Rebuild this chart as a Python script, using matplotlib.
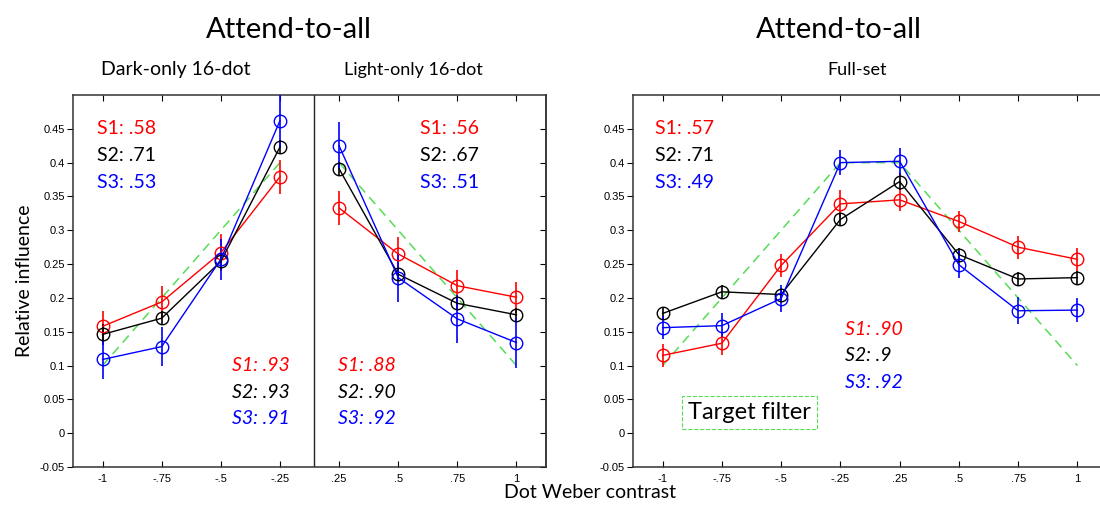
import matplotlib
matplotlib.use('Agg')
import matplotlib.pyplot as plt
import numpy as np

# contrast levels (tick labels) and positions
xlabels = ['-1', '-.75', '-.5', '-.25', '.25', '.5', '.75', '1']
yticks = [-0.05, 0, 0.05, 0.1, 0.15, 0.2, 0.25, 0.3, 0.35, 0.4, 0.45]
ylabels = ['-0.05', '0', '0.05', '0.1', '0.15', '0.2', '0.25', '0.3', '0.35', '0.4', '0.45']

# target filter
target = [0.1, 0.2, 0.3, 0.4, 0.4, 0.3, 0.2, 0.1]

# dark-only (first 4) and light-only (last 4) 16-dot conditions
dl_s1 = [0.158, 0.194, 0.267, 0.379, 0.333, 0.265, 0.218, 0.201]
dl_s2 = [0.146, 0.170, 0.254, 0.423, 0.391, 0.235, 0.192, 0.175]
dl_s3 = [0.109, 0.128, 0.257, 0.462, 0.425, 0.230, 0.169, 0.134]
dl_s1_err = [0.022, 0.023, 0.027, 0.025, 0.025, 0.025, 0.023, 0.023]
dl_s2_err = [0.015, 0.010, 0.012, 0.010, 0.010, 0.010, 0.010, 0.010]
dl_s3_err = [0.029, 0.029, 0.030, 0.040, 0.035, 0.036, 0.035, 0.037]

# full set
fs_s1 = [0.115, 0.133, 0.248, 0.339, 0.345, 0.313, 0.275, 0.257]
fs_s2 = [0.177, 0.209, 0.205, 0.316, 0.372, 0.264, 0.228, 0.230]
fs_s3 = [0.156, 0.159, 0.199, 0.400, 0.402, 0.249, 0.181, 0.182]
fs_s1_err = [0.017, 0.017, 0.017, 0.020, 0.017, 0.015, 0.017, 0.017]
fs_s2_err = [0.010, 0.010, 0.010, 0.010, 0.012, 0.010, 0.010, 0.010]
fs_s3_err = [0.017, 0.018, 0.020, 0.018, 0.020, 0.020, 0.020, 0.018]

# correlation labels
dark_r = ['S1: .58', 'S2: .71', 'S3: .53']
dark_r2 = ['S1: .93', 'S2: .93', 'S3: .91']
light_r = ['S1: .56', 'S2: .67', 'S3: .51']
light_r2 = ['S1: .88', 'S2: .90', 'S3: .92']
full_r = ['S1: .57', 'S2: .71', 'S3: .49']
full_r2 = ['S1: .90', 'S2: .9', 'S3: .92']

colors = ['#ff0000', '#000000', '#0000ff']
green = '#55dd55'
tfont = 'Lato'
tickfont = ['Liberation Sans Narrow', 'Liberation Sans', 'DejaVu Sans']

x = np.arange(8)

fig = plt.figure(figsize=(11, 5.08), dpi=100)
ax1 = fig.add_axes([73/1100, 41/508, 473/1100, 372/508])
ax2 = fig.add_axes([633/1100, 41/508, 474/1100, 372/508])


def style(ax):
    ax.set_xlim(-0.5, 7.5)
    ax.set_ylim(-0.05, 0.5)
    ax.set_xticks(x)
    ax.set_xticklabels(xlabels, family=tickfont, fontsize=8)
    ax.set_yticks(yticks)
    ax.set_yticklabels(ylabels, family=tickfont, fontsize=8)
    ax.tick_params(axis='x', direction='in', top=True, length=4, width=0.8, pad=5)
    ax.tick_params(axis='y', direction='out', length=4, width=0.8, pad=2)
    sec = ax.secondary_yaxis('right')
    sec.set_yticks(yticks)
    sec.tick_params(direction='in', length=4, width=0.8, labelright=False)
    for s in ax.spines.values():
        s.set_linewidth(1.1)
        s.set_color('#333333')
    sec.spines['right'].set_linewidth(1.1)
    sec.spines['right'].set_color('#333333')


def series(ax, idx, vals, errs, c):
    ax.errorbar(x[idx], np.array(vals)[idx], yerr=np.array(errs)[idx], fmt='-o',
                color=c, mfc='none', mec=c, ms=9, mew=1.0, lw=1.0,
                elinewidth=1.2, capsize=0, zorder=3)


def labels(ax, xp, y0, texts, ha='left', italic=False, dy=0.0395):
    for i, (t, c) in enumerate(zip(texts, colors)):
        ax.text(xp, y0 - i * dy, t, color=c, ha=ha, va='center', family=tfont,
                fontsize=14, style='italic' if italic else 'normal')


# left panel: dark and light conditions separated
style(ax1)
for idx in (slice(0, 4), slice(4, 8)):
    ax1.plot(x[idx], np.array(target)[idx], '--', color=green, lw=1.1, dashes=(6, 4), zorder=2)
    series(ax1, idx, dl_s1, dl_s1_err, colors[0])
    series(ax1, idx, dl_s2, dl_s2_err, colors[1])
    series(ax1, idx, dl_s3, dl_s3_err, colors[2])
ax1.axvline(3.57, color='#222222', lw=1.0)
labels(ax1, -0.1, 0.45, dark_r)
labels(ax1, 3.17, 0.100, dark_r2, ha='right', italic=True)
labels(ax1, 5.37, 0.45, light_r)
labels(ax1, 3.98, 0.100, light_r2, italic=True)
ax1.set_ylabel('Relative influence', family=tfont, fontsize=14, labelpad=5)

# right panel: full set
style(ax2)
ax2.plot(x, target, '--', color=green, lw=1.1, dashes=(6, 4), zorder=2)
series(ax2, slice(0, 8), fs_s1, fs_s1_err, colors[0])
series(ax2, slice(0, 8), fs_s2, fs_s2_err, colors[1])
series(ax2, slice(0, 8), fs_s3, fs_s3_err, colors[2])
labels(ax2, -0.135, 0.45, full_r)
labels(ax2, 3.08, 0.154, full_r2, italic=True)
ax2.text(1.47, 0.031, 'Target filter', ha='center', va='center', family=tfont, fontsize=17,
         bbox=dict(boxstyle='square,pad=0.25', fc='white', ec=green, ls='--', lw=0.8))

# titles
fig.text(289/1100, 1 - 30/508, 'Attend-to-all', ha='center', va='center', family=tfont, fontsize=21)
fig.text(839/1100, 1 - 30/508, 'Attend-to-all', ha='center', va='center', family=tfont, fontsize=21)
fig.text(176/1100, 1 - 70/508, 'Dark-only 16-dot', ha='center', va='center', family=tfont, fontsize=14)
fig.text(413/1100, 1 - 70/508, 'Light-only 16-dot', ha='center', va='center', family=tfont, fontsize=13)
fig.text(857/1100, 1 - 70/508, 'Full-set', ha='center', va='center', family=tfont, fontsize=13)
fig.text(590/1100, 1 - 493/508, 'Dot Weber contrast', ha='center', va='center', family=tfont, fontsize=14)

fig.savefig('out.png', dpi=100)
